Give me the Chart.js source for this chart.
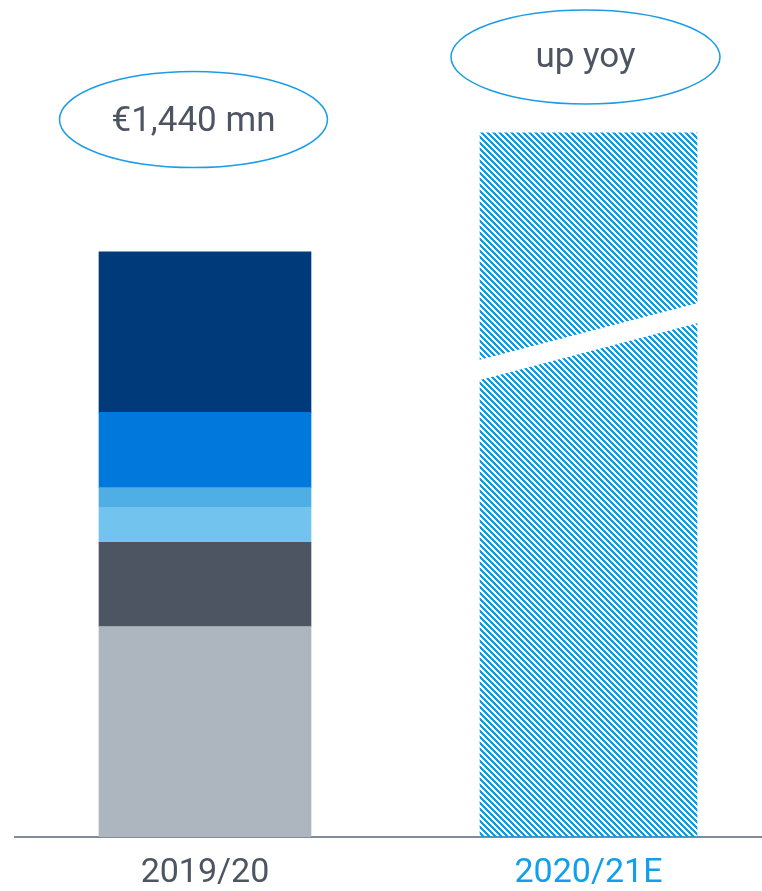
<!DOCTYPE html>
<html>
<head>
<meta charset="utf-8">
<script src="https://cdn.jsdelivr.net/npm/chart.js@4"></script>
<style>
  html, body { margin: 0; padding: 0; background: #ffffff; overflow: hidden; }
  #wrap { width: 762px; height: 891px; position: relative; }
</style>
</head>
<body>
<div id="wrap"><canvas id="c"></canvas></div>
<script>
// ---- data ----
const categories = ['2019/20', '2020/21E'];
const tickColors = ['#4d5563', '#0ea0ec'];
// 2019/20 stacked segments, bottom to top (€ mn)
const segGray      = [518, null];
const segDarkGray  = [207, null];
const segSky       = [86, null];
const segMidBlue   = [49, null];
const segBlue      = [185, null];
const segNavy      = [395, null];
// 2020/21E estimate (hatched)
const estimate     = [null, 1733];
// axis break on estimate bar: values at left edge / right edge
const breakLower   = [1124, 1265];
const breakUpper   = [1174, 1314];
const calloutText  = ['€1,440 mn', 'up yoy'];

// ---- hatch pattern ----
function makeHatch(color) {
  const s = 6;
  const cv = document.createElement('canvas');
  cv.width = s; cv.height = s;
  const g = cv.getContext('2d');
  g.fillStyle = color;
  for (let y = 0; y < s; y++) {
    for (let x = 0; x < s; x++) {
      if ((((x - y) % s) + s) % s < 3) g.fillRect(x, y, 1, 1);
    }
  }
  return g.createPattern(cv, 'repeat');
}
const ctx = document.getElementById('c').getContext('2d');
const hatch = makeHatch('#00a0f0');

function toXY(arr) {
  const out = [];
  arr.forEach((v, i) => { if (v !== null) out.push({ x: i, y: v }); });
  return out;
}

const segDefs = [
  [segGray, '#adb6bf'],
  [segDarkGray, '#4d5563'],
  [segSky, '#73c3ef'],
  [segMidBlue, '#4faee3'],
  [segBlue, '#0078dc'],
  [segNavy, '#003a7a']
];
const datasets = segDefs.map(([arr, col]) => ({
  data: toXY(arr),
  backgroundColor: col,
  borderWidth: 0,
  barThickness: 212
}));
datasets.push({
  data: toXY(estimate),
  backgroundColor: hatch,
  borderWidth: 0,
  barThickness: 217
});
const estIndex = datasets.length - 1;

const breakPlugin = {
  id: 'breakPlugin',
  afterDatasetsDraw(chart) {
    const meta = chart.getDatasetMeta(estIndex);
    const ys = chart.scales.y;
    const c = chart.ctx;
    meta.data.forEach((bar) => {
      const l = bar.x - bar.width / 2 - 1, r = bar.x + bar.width / 2 + 1;
      c.save();
      c.fillStyle = '#ffffff';
      c.beginPath();
      c.moveTo(l, ys.getPixelForValue(breakUpper[0]));
      c.lineTo(r, ys.getPixelForValue(breakUpper[1]));
      c.lineTo(r, ys.getPixelForValue(breakLower[1]));
      c.lineTo(l, ys.getPixelForValue(breakLower[0]));
      c.closePath();
      c.fill();
      c.restore();
    });
  }
};

const calloutPlugin = {
  id: 'callouts',
  afterDraw(chart, args, opts) {
    const c = chart.ctx;
    const xs = chart.scales.x;
    opts.items.forEach((it, i) => {
      const cx = xs.getPixelForValue(i) + it.dx;
      c.save();
      c.beginPath();
      c.ellipse(cx, it.cy, it.rx, it.ry, 0, 0, Math.PI * 2);
      c.strokeStyle = '#1b9ce8';
      c.lineWidth = 1.5;
      c.stroke();
      c.fillStyle = '#4d5563';
      c.font = '35px Roboto';
      c.textAlign = 'center';
      c.textBaseline = 'alphabetic';
      c.fillText(calloutText[i], cx, it.base);
      c.restore();
    });
  }
};

new Chart(ctx, {
  type: 'bar',
  data: { datasets },
  plugins: [breakPlugin, calloutPlugin],
  options: {
    responsive: true,
    maintainAspectRatio: false,
    animation: false,
    layout: { padding: { left: 15, right: 0, top: 0, bottom: 0 } },
    plugins: {
      legend: { display: false },
      tooltip: { enabled: false },
      callouts: {
        items: [
          { dx: -11.5, cy: 119.5, rx: 134, ry: 48, base: 131 },
          { dx: -3, cy: 57, rx: 134.5, ry: 47, base: 67 }
        ]
      }
    },
    scales: {
      x: {
        type: 'linear',
        stacked: true,
        offset: false,
        bounds: 'data',
        min: -0.4954,
        max: 1.4524,
        z: 1,
        grid: { display: false, drawTicks: false, offset: false },
        border: { display: true, color: '#7f8a9a', width: 2 },
        afterBuildTicks(scale) { scale.ticks = categories.map((_, i) => ({ value: i })); },
        afterFit(scale) { scale.height = 54; },
        ticks: {
          padding: 16,
          autoSkip: false,
          maxRotation: 0,
          font: { family: 'Roboto', size: 34 },
          color: (c) => tickColors[c.index],
          callback: (v) => categories[v]
        }
      },
      y: {
        display: false,
        stacked: true,
        min: 0,
        max: 2060
      }
    }
  }
});
</script>
</body>
</html>
